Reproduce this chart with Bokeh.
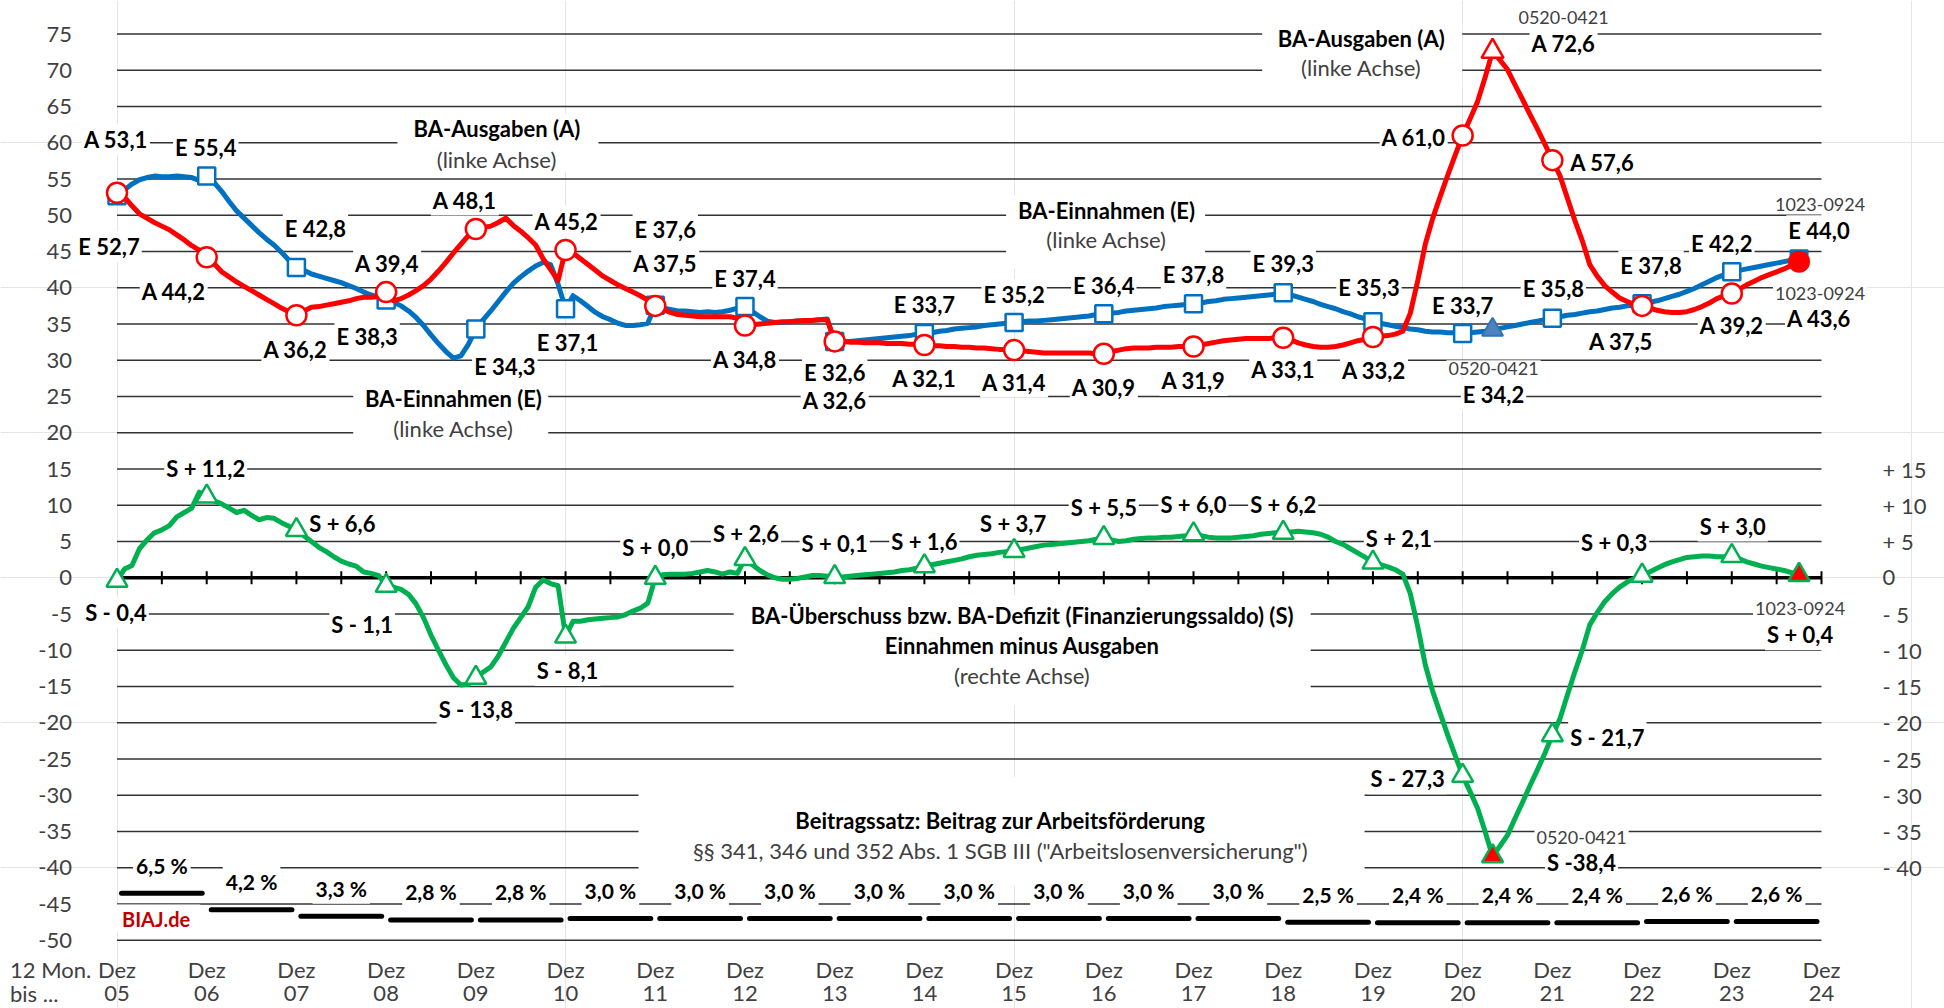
import math
from bokeh.plotting import figure
from bokeh.models import Range1d, ColumnDataSource
from bokeh.core.properties import value
from bokeh.embed import file_html
from bokeh.resources import INLINE

# ---------------- data: 12-Monats-Summen in Mrd. Euro, Dez 05 ... Sep 24 ----------------
jahre = ["05", "06", "07", "08", "09", "10", "11", "12", "13", "14",
         "15", "16", "17", "18", "19", "20", "21", "22", "23", "24"]

einnahmen = [
    52.7,
    53.5, 54.3, 54.9, 55.2, 55.4, 55.3, 55.3, 55.4, 55.3, 55.2, 54.8, 55.4,  # 2006
    54.5, 53.3, 51.9, 50.6, 49.6, 48.6, 47.6, 46.7, 45.9, 44.9, 43.8, 42.8,  # 2007
    42.4, 41.9, 41.6, 41.3, 41.0, 40.7, 40.3, 39.9, 39.4, 39.0, 38.7, 38.3,  # 2008
    38.0, 37.5, 36.8, 35.9, 34.8, 33.5, 32.3, 31.2, 30.3, 30.6, 32.2, 34.3,  # 2009
    35.6, 36.8, 38.1, 39.4, 40.6, 41.5, 42.3, 43.0, 43.5, 43.2, 40.5, 37.1,  # 2010
    38.9, 38.2, 37.4, 36.6, 36.0, 35.6, 35.1, 34.8, 34.8, 34.9, 35.1, 37.6,  # 2011
    37.2, 37.0, 36.8, 36.8, 36.7, 36.6, 36.7, 36.6, 36.7, 36.9, 37.2, 37.4,  # 2012
    36.7, 36.0, 35.4, 35.2, 35.2, 35.3, 35.4, 35.4, 35.5, 35.6, 35.7, 32.6,  # 2013
    32.6, 32.6, 32.7, 32.8, 32.9, 33.0, 33.1, 33.2, 33.3, 33.4, 33.6, 33.7,  # 2014
    33.8, 34.0, 34.1, 34.3, 34.4, 34.5, 34.6, 34.8, 34.9, 35.0, 35.1, 35.2,  # 2015
    35.3, 35.4, 35.4, 35.5, 35.6, 35.7, 35.8, 35.9, 36.0, 36.1, 36.3, 36.4,  # 2016
    36.5, 36.6, 36.8, 36.9, 37.0, 37.1, 37.2, 37.4, 37.5, 37.6, 37.7, 37.8,  # 2017
    37.9, 38.1, 38.2, 38.4, 38.5, 38.6, 38.7, 38.8, 38.9, 39.0, 39.1, 39.3,  # 2018
    39.0, 38.7, 38.4, 38.1, 37.7, 37.4, 37.1, 36.7, 36.4, 36.0, 35.7, 35.3,  # 2019
    35.1, 34.9, 34.7, 34.5, 34.3, 34.2, 34.0, 33.9, 33.9, 33.8, 33.8, 33.7,  # 2020
    33.8, 33.9, 34.0, 34.2, 34.4, 34.6, 34.8, 35.0, 35.2, 35.4, 35.6, 35.8,  # 2021
    36.0, 36.2, 36.3, 36.5, 36.7, 36.8, 37.0, 37.2, 37.3, 37.5, 37.6, 37.8,  # 2022
    38.0, 38.2, 38.5, 38.8, 39.1, 39.5, 39.9, 40.4, 40.9, 41.4, 41.8, 42.2,  # 2023
    42.4, 42.6, 42.8, 43.0, 43.2, 43.4, 43.6, 43.8, 44.0,                    # 2024
]

ausgaben = [
    53.1,
    52.5, 51.3, 50.2, 49.6, 49.0, 48.5, 48.0, 47.3, 46.6, 45.8, 45.2, 44.2,  # 2006
    43.3, 42.2, 41.5, 40.8, 40.2, 39.6, 39.0, 38.4, 37.8, 37.2, 36.7, 36.2,  # 2007
    36.8, 37.3, 37.4, 37.6, 37.8, 38.0, 38.2, 38.5, 38.7, 38.7, 38.8, 39.4,  # 2008
    38.2, 38.5, 39.0, 39.6, 40.3, 41.2, 42.3, 43.5, 44.8, 46.0, 47.2, 48.1,  # 2009
    48.3, 48.5, 49.0, 49.6, 48.6, 47.8, 46.9, 45.9, 44.0, 42.5, 41.0, 45.2,  # 2010
    44.8, 44.0, 43.2, 42.4, 41.6, 41.0, 40.4, 39.9, 39.4, 38.9, 38.3, 37.5,  # 2011
    37.0, 36.6, 36.3, 36.2, 36.1, 36.0, 36.0, 36.0, 36.0, 36.0, 35.8, 34.8,  # 2012
    34.9, 35.0, 35.1, 35.2, 35.3, 35.3, 35.4, 35.5, 35.5, 35.6, 35.6, 32.6,  # 2013
    32.6, 32.5, 32.5, 32.4, 32.4, 32.4, 32.3, 32.3, 32.3, 32.2, 32.2, 32.1,  # 2014
    32.0, 32.0, 31.9, 31.9, 31.8, 31.8, 31.7, 31.7, 31.6, 31.5, 31.5, 31.4,  # 2015
    31.3, 31.2, 31.1, 31.0, 31.0, 31.0, 31.0, 31.0, 31.0, 31.0, 30.9, 30.9,  # 2016
    31.2, 31.4, 31.6, 31.7, 31.7, 31.7, 31.8, 31.8, 31.8, 31.9, 31.9, 31.9,  # 2017
    32.1, 32.3, 32.5, 32.7, 32.8, 32.9, 33.0, 33.0, 33.0, 33.0, 33.1, 33.1,  # 2018
    32.8, 32.4, 32.1, 31.9, 31.8, 31.8, 31.9, 32.1, 32.4, 32.7, 32.9, 33.2,  # 2019
    33.3, 33.4, 33.6, 34.0, 36.5, 41.0, 46.0, 49.6, 52.6, 55.5, 58.3, 61.0,  # 2020
    63.3, 65.7, 69.0, 72.6, 71.4, 70.1, 68.0, 66.0, 63.9, 61.9, 59.8, 57.6,  # 2021
    55.5, 52.4, 49.3, 46.5, 43.2, 41.6, 40.3, 39.4, 38.6, 38.1, 37.7, 37.5,  # 2022
    37.2, 36.9, 36.7, 36.6, 36.6, 36.7, 37.0, 37.4, 37.9, 38.5, 38.9, 39.2,  # 2023
    39.8, 40.4, 40.9, 41.4, 41.8, 42.2, 42.6, 43.1, 43.6,                    # 2024
]

saldo = [
    -0.4,
    1.2, 1.7, 4.0, 5.2, 6.2, 6.6, 7.2, 8.4, 9.0, 9.6, 11.8, 11.2,            # 2006
    10.6, 10.2, 9.6, 9.0, 9.3, 8.6, 8.0, 8.3, 8.2, 7.6, 7.1, 6.6,            # 2007
    5.8, 5.0, 4.2, 3.6, 2.9, 2.3, 1.9, 1.6, 0.8, 0.6, 0.3, -1.1,             # 2008
    -1.3, -1.6, -2.3, -3.6, -5.5, -7.9, -10.0, -12.0, -13.8, -14.8, -14.7, -13.8,  # 2009
    -13.0, -12.3, -10.8, -8.9, -7.0, -5.5, -4.0, -1.3, -0.3, -0.8, -1.1, -8.1,     # 2010
    -6.0, -6.0, -5.8, -5.7, -5.6, -5.5, -5.4, -5.1, -4.6, -4.2, -3.5, 0.0,   # 2011
    0.4, 0.5, 0.5, 0.5, 0.6, 0.8, 1.0, 0.8, 0.5, 0.8, 0.6, 2.6,              # 2012
    1.8, 1.0, 0.4, 0.0, -0.2, -0.2, -0.1, 0.1, 0.3, 0.3, 0.2, 0.1,           # 2013
    0.1, 0.2, 0.3, 0.4, 0.5, 0.6, 0.7, 0.8, 1.0, 1.1, 1.3, 1.6,              # 2014
    1.8, 2.0, 2.2, 2.4, 2.6, 2.9, 3.1, 3.2, 3.3, 3.5, 3.6, 3.7,              # 2015
    3.9, 4.1, 4.3, 4.5, 4.6, 4.7, 4.8, 4.9, 5.0, 5.1, 5.3, 5.5,              # 2016
    5.2, 5.0, 5.1, 5.3, 5.4, 5.5, 5.5, 5.6, 5.6, 5.7, 5.8, 6.0,              # 2017
    5.8, 5.6, 5.5, 5.5, 5.5, 5.6, 5.7, 5.8, 6.0, 6.1, 6.2, 6.2,              # 2018
    6.3, 6.4, 6.3, 6.2, 6.0, 5.6, 5.0, 4.6, 4.0, 3.4, 2.8, 2.1,              # 2019
    1.8, 1.5, 1.1, 0.5, -2.2, -6.8, -12.0, -15.7, -18.7, -21.7, -24.5, -27.3,      # 2020
    -29.5, -31.8, -35.0, -38.4, -37.0, -35.5, -33.2, -31.0, -28.7, -26.5, -24.2, -21.7,  # 2021
    -19.5, -16.2, -13.0, -10.0, -6.5, -4.8, -3.3, -2.2, -1.3, -0.6, -0.1, 0.3,     # 2022
    0.8, 1.3, 1.8, 2.2, 2.5, 2.8, 2.9, 3.0, 3.0, 2.9, 2.9, 3.0,              # 2023
    2.6, 2.2, 1.9, 1.6, 1.4, 1.2, 1.0, 0.7, 0.4,                             # 2024
]

# Beitragssatz (%) for the 12 months ending Dez 06 ... Dez 24
beitragssatz = [6.5, 4.2, 3.3, 2.8, 2.8, 3.0, 3.0, 3.0, 3.0, 3.0,
                3.0, 3.0, 3.0, 2.5, 2.4, 2.4, 2.4, 2.6, 2.6]

left_ticks = [75, 70, 65, 60, 55, 50, 45, 40, 35, 30, 25, 20, 15, 10, 5, 0,
              -5, -10, -15, -20, -25, -30, -35, -40, -45, -50]
right_ticks = [15, 10, 5, 0, -5, -10, -15, -20, -25, -30, -35, -40]
right_tick_labels = ["+ 15", "+ 10", "+ 5", "0", "- 5", "- 10", "- 15", "- 20",
                     "- 25", "- 30", "- 35", "- 40"]

peak_idx = 184        # 0520-0421
last_idx = 225        # 1023-0924
peak_period = "0520-0421"
last_period = "1023-0924"

# ---------------- layout / style ----------------
W, H = 1944, 1008
PX_YEAR = 89.71
PX_UNIT = 7.25
X_ORIGIN = 116.5
Y_TOP75 = 33.5
FONT = value("Lato")
RED, BLUE, GREEN = "#FF0000", "#0070C0", "#00B050"
GREY = "#404040"
GRID = "#333333"
FS = "22px"

# label offsets (px) from the markers at each Dez
off_A = [(-1, -53), (-33, 34), (-1, 34), (1, -29), (-11, -29), (1, -29), (10, -42),
         (0, 34), (0, 59), (0, 33), (0, 32), (0, 34), (0, 34), (0, 32), (1, 33),
         (-49, 2), (50, 2), (-21, 36), (0, 32)]
off_E = [(-8, 51), (-1, -29), (19, -39), (-19, 36), (29, 37), (2, 34), (10, -76),
         (0, -28), (0, 31), (0, -29), (0, -28), (0, -28), (0, -29), (0, -29), (-4, -34),
         (0, -28), (1, -30), (9, -38), (-10, -28)]
off_S = [(-1, 32), (-1, -28), (46, -6), (-24, 39), (0, 32), (2, 34), (0, -30),
         (1, -25), (0, -34), (0, -25), (-1, -27), (0, -30), (0, -30), (0, -28), (26, -24),
         (-55, 3), (55, 2), (-28, -33), (1, -30)]

titles = [  # text, x (years after Dez 05), y (value), bold
    ("BA-Ausgaben (A)", 4.235, 61.9, True),
    ("(linke Achse)", 4.235, 57.75, False),
    ("BA-Ausgaben (A)", 13.87, 74.4, True),
    ("(linke Achse)", 13.87, 70.4, False),
    ("BA-Einnahmen (E)", 11.03, 50.7, True),
    ("(linke Achse)", 11.03, 46.7, False),
    ("BA-Einnahmen (E)", 3.75, 24.7, True),
    ("(linke Achse)", 3.75, 20.65, False),
    ("BA-Überschuss bzw. BA-Defizit (Finanzierungssaldo) (S)", 10.09, -5.2, True),
    ("Einnahmen minus Ausgaben", 10.09, -9.3, True),
    ("(rechte Achse)", 10.09, -13.5, False),
    ("Beitragssatz: Beitrag zur Arbeitsförderung", 9.85, -33.5, True),
    ('§§ 341, 346 und 352 Abs. 1 SGB III ("Arbeitslosenversicherung")', 9.85, -37.6, False),
]
boxes = [  # x, y, width px, height px
    (4.246, 60.0, 201, 58), (13.88, 72.0, 200, 62), (11.02, 47.7, 199, 72),
    (3.72, 22.8, 195, 80), (10.09, -10.07, 577, 110), (9.86, -34.97, 726, 109),
]


def de(v):
    return f"{v:.1f}".replace(".", ",")


def s_text(v, space=True):
    sign = "+" if v >= 0 else "-"
    return f"S {sign} {de(abs(v))}" if space else f"S {sign}{de(abs(v))}"


t_month = [i / 12 for i in range(len(einnahmen))]
dez_idx = [12 * k for k in range(len(jahre) - 1)]
x_end = len(jahre) - 1

x_range = Range1d(-X_ORIGIN / PX_YEAR, (W - X_ORIGIN) / PX_YEAR)
y_range = Range1d(75 - (H - Y_TOP75) / PX_UNIT, 75 + Y_TOP75 / PX_UNIT)

p = figure(width=W, height=H, x_range=x_range, y_range=y_range,
           output_backend="svg", toolbar_location=None,
           x_axis_location=None, y_axis_location=None, min_border=0)
p.outline_line_color = None
p.background_fill_color = "white"
p.border_fill_color = "white"
p.extra_y_ranges = {"rate": Range1d(y_range.start + 50, y_range.end + 50)}

# gridlines
grid_vals = [v for v in left_ticks if v != 0]
p.segment(x0=0, x1=x_end, y0=grid_vals, y1=grid_vals, line_color=GRID, line_width=1.3)

# white boxes behind the titles
p.rect(x=[b[0] for b in boxes], y=[b[1] for b in boxes],
       width=[b[2] for b in boxes], height=[b[3] for b in boxes],
       width_units="screen", height_units="screen", fill_color="white", line_color=None)

# axis tick labels
common = dict(text_font=FONT, text_baseline="middle")
p.text(x=0, y=left_ticks, text=[str(v) for v in left_ticks], x_offset=-45,
       text_align="right", text_font_size=FS, text_color=GREY, **common)
p.text(x=x_end, y=right_ticks, text=right_tick_labels, x_offset=61,
       text_align="left", text_font_size=FS, text_color=GREY, **common)
xs_years = list(range(len(jahre)))
p.text(x=xs_years, y=-50, text=["Dez"] * len(jahre), y_offset=29,
       text_align="center", text_font_size=FS, text_color=GREY, **common)
p.text(x=xs_years, y=-50, text=jahre, y_offset=53,
       text_align="center", text_font_size=FS, text_color=GREY, **common)
p.text(x=0, y=-50, text=["12 Mon."], x_offset=-107, y_offset=29,
       text_align="left", text_font_size=FS, text_color=GREY, **common)
p.text(x=0, y=-50, text=["bis ..."], x_offset=-107, y_offset=53,
       text_align="left", text_font_size=FS, text_color=GREY, **common)

# titles
for bold in (True, False):
    sel = [t for t in titles if t[3] == bold]
    p.text(x=[t[1] for t in sel], y=[t[2] for t in sel], text=[t[0] for t in sel],
           text_align="center", text_font_size=FS,
           text_font_style="bold" if bold else "normal",
           text_color="black" if bold else GREY, **common)

# Beitragssatz bars and labels
xs_rate = list(range(len(beitragssatz)))
p.segment(x0=[k + 0.05 for k in xs_rate], x1=[k + 0.95 for k in xs_rate],
          y0=beitragssatz, y1=beitragssatz, y_range_name="rate",
          line_color="black", line_width=5, line_cap="round")
p.text(x=[k + 0.5 for k in xs_rate], y=beitragssatz, y_range_name="rate",
       text=[de(r) + " %" for r in beitragssatz], y_offset=-28,
       text_align="center", text_font_size="21px", text_font_style="bold",
       text_color="black", background_fill_color="white", padding=3, **common)
p.text(x=0, y=-47, text=["BIAJ.de"], x_offset=-3, text_align="left",
       text_font_size="20px", text_font_style="bold", text_color="#C00000",
       background_fill_color="white", padding=(8, 10, 2, 2), **common)

# zero line with half-year ticks
p.segment(x0=0, x1=x_end, y0=0, y1=0, line_color="black", line_width=3.5)
p.scatter(x=[k * 0.5 for k in range(2 * x_end + 1)], y=0, marker="dash", size=13,
          angle=math.pi / 2, line_color="black", line_width=2)

# data labels
lab = dict(x=[], y=[], text=[], dx=[], dy=[])
for series, prefix, offs in ((ausgaben, "A", off_A), (einnahmen, "E", off_E), (saldo, "S", off_S)):
    for k, i in enumerate(dez_idx):
        v = series[i]
        lab["x"].append(t_month[i]); lab["y"].append(v)
        lab["text"].append(s_text(v) if prefix == "S" else f"{prefix} {de(v)}")
        lab["dx"].append(offs[k][0]); lab["dy"].append(offs[k][1])
special = [  # idx, series, text, dx, dy
    (peak_idx, ausgaben, "A " + de(ausgaben[peak_idx]), 71, -8),
    (peak_idx, einnahmen, "E " + de(einnahmen[peak_idx]), 1, 65),
    (peak_idx, saldo, s_text(saldo[peak_idx], space=False), 89, 6),
    (last_idx, einnahmen, "E " + de(einnahmen[last_idx]), 20, -28),
    (last_idx, ausgaben, "A " + de(ausgaben[last_idx]), 20, 57),
    (last_idx, saldo, s_text(saldo[last_idx]), 1, 60),
]
for i, series, txt, dx, dy in special:
    lab["x"].append(t_month[i]); lab["y"].append(series[i]); lab["text"].append(txt)
    lab["dx"].append(dx); lab["dy"].append(dy)
p.text(x="x", y="y", text="text", x_offset="dx", y_offset="dy", source=ColumnDataSource(lab),
       text_align="center", text_font_size=FS, text_font_style="bold", text_color="black",
       background_fill_color="white", padding=2, **common)

periods = [  # idx, series, text, dx, dy
    (peak_idx, ausgaben, peak_period, 71, -34),
    (peak_idx, einnahmen, peak_period, 1, 39),
    (peak_idx, saldo, peak_period, 89, -19),
    (last_idx, einnahmen, last_period, 21, -54),
    (last_idx, ausgaben, last_period, 21, 32),
    (last_idx, saldo, last_period, 1, 34),
]
per = dict(x=[t_month[r[0]] for r in periods], y=[r[1][r[0]] for r in periods],
           text=[r[2] for r in periods], dx=[r[3] for r in periods], dy=[r[4] for r in periods])
p.text(x="x", y="y", text="text", x_offset="dx", y_offset="dy", source=ColumnDataSource(per),
       text_align="center", text_font_size="18px", text_color=GREY,
       background_fill_color="white", padding=2, **common)

# series lines and markers
dez_t = [t_month[i] for i in dez_idx]
p.line(t_month, einnahmen, line_color=BLUE, line_width=5, line_join="round")
p.scatter(dez_t, [einnahmen[i] for i in dez_idx], marker="square", size=17,
          fill_color="white", line_color=BLUE, line_width=2.5)
p.scatter([t_month[peak_idx]], [einnahmen[peak_idx]], marker="triangle", size=21,
          fill_color="#4F81BD", line_color="#2E75B6", line_width=2)
p.scatter([t_month[last_idx]], [einnahmen[last_idx]], marker="square", size=17,
          fill_color=BLUE, line_color=BLUE, line_width=2)

p.line(t_month, ausgaben, line_color=RED, line_width=5, line_join="round")
p.scatter(dez_t, [ausgaben[i] for i in dez_idx], marker="circle", size=20,
          fill_color="white", line_color=RED, line_width=2.5)
p.scatter([t_month[peak_idx]], [ausgaben[peak_idx]], marker="triangle", size=22,
          fill_color="white", line_color=RED, line_width=2.5)
p.scatter([t_month[last_idx]], [ausgaben[last_idx]], marker="circle", size=20,
          fill_color=RED, line_color=RED, line_width=2)

p.line(t_month, saldo, line_color=GREEN, line_width=5, line_join="round")
p.scatter(dez_t, [saldo[i] for i in dez_idx], marker="triangle", size=21,
          fill_color="white", line_color=GREEN, line_width=2.5)
p.scatter([t_month[peak_idx], t_month[last_idx]], [saldo[peak_idx], saldo[last_idx]],
          marker="triangle", size=21, fill_color=RED, line_color=GREEN, line_width=2.5)

open("out.html", "w").write(file_html(p, INLINE))
